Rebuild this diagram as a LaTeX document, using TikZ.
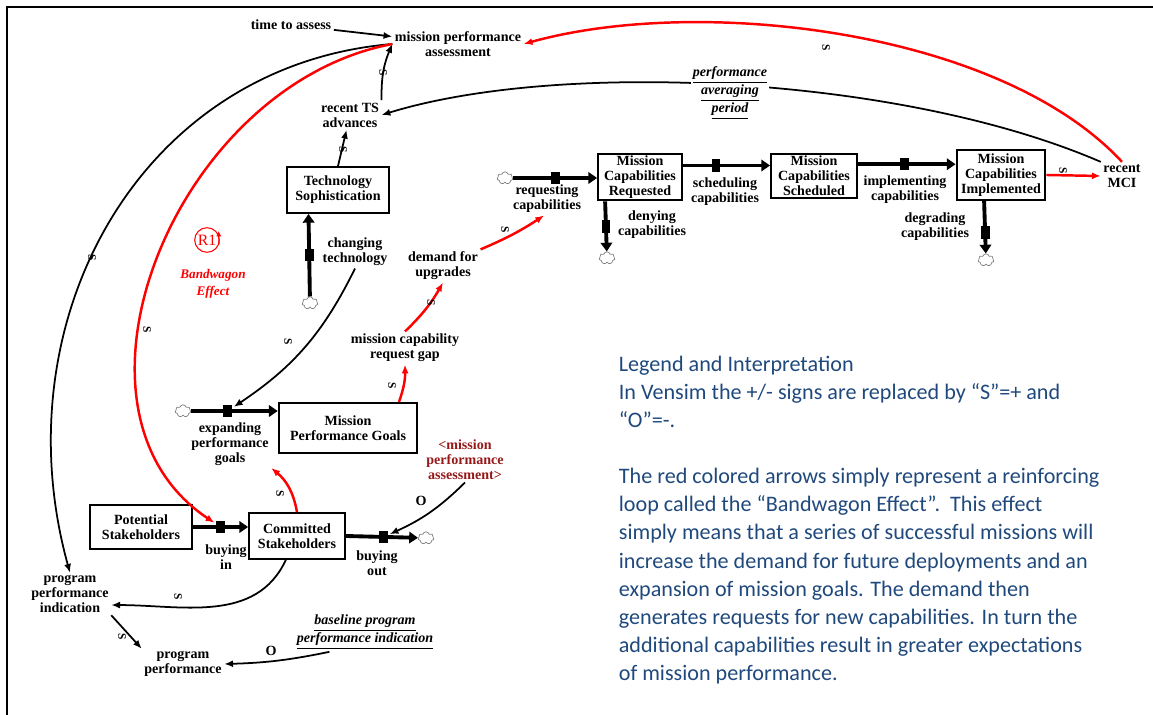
\documentclass[tikz,border=0pt]{standalone}
\usepackage{fontspec}
\setmainfont{Liberation Serif}
\newfontfamily\legendfont{Carlito}
\usetikzlibrary{arrows.meta,shapes.symbols}
\definecolor{shadowred}{RGB}{150,25,25}
\definecolor{legendblue}{RGB}{31,73,125}
\newcommand{\vf}{\fontsize{8}{8.5}\selectfont\bfseries}

\begin{document}
\begin{tikzpicture}[x=0.02cm, y=0.02cm, line width=1pt,
  aux/.style={font=\vf, align=center, inner sep=1pt},
  shadow/.style={aux, text=shadowred},
  fixed/.style={aux, font=\vf\itshape, fill=white},
  stock/.style={draw, line width=1.2pt, font=\vf, align=center, inner sep=1pt},
  pipe/.style={line width=2.2pt, -{Triangle[length=5pt,width=6.5pt]}},
  valve/.style={fill=black, minimum width=5pt, minimum height=7pt, inner sep=0pt},
  sink/.style={cloud, cloud puffs=7, draw=gray, fill=white, line width=0.4pt,
    minimum width=9pt, minimum height=7pt, inner sep=0pt},
  link/.style={-{Latex[length=5pt,width=4pt]}},
  rlink/.style={link, red, line width=1.4pt},
  pol/.style={font=\fontsize{6.5}{6.5}\selectfont\bfseries, rotate=-90, inner sep=0pt}]

  \useasboundingbox (0,0) rectangle (1153,-715);
  \draw[line width=1.2pt] (7,-715) -- (7,-7) -- (1153,-7);

  % stocks
  \node[stock, minimum width=47.6pt, minimum height=26.6pt] (mcr) at (640,-177) {Mission\\Capabilities\\Requested};
  \node[stock, minimum width=48.8pt, minimum height=25.5pt] (mcs) at (814,-176) {Mission\\Capabilities\\Scheduled};
  \node[stock, minimum width=50.5pt, minimum height=28.4pt] (mcim) at (1001,-175) {Mission\\Capabilities\\Implemented};
  \node[stock, minimum width=57.8pt, minimum height=26pt] (ts) at (338,-190) {Technology\\Sophistication};
  \node[stock, minimum width=78.8pt, minimum height=28.4pt] (mpg) at (348,-428) {Mission\\Performance Goals};
  \node[stock, minimum width=58.4pt, minimum height=25pt] (ps) at (141,-527) {Potential\\Stakeholders};
  \node[stock, minimum width=54.4pt, minimum height=26pt] (cs) at (297,-536) {Committed\\Stakeholders};

  % clouds
  \node[sink] (cl1) at (505,-178) {};
  \node[sink] (cl2) at (607,-258) {};
  \node[sink] (cl3) at (986,-260) {};
  \node[sink] (cl4) at (310,-303) {};
  \node[sink] (cl5) at (183,-411) {};
  \node[sink] (cl6) at (426,-538) {};

  % flows
  \draw[pipe] (cl1) -- node[valve] (v1) {} (mcr.west |- cl1);
  \draw[pipe] (mcr.15) -- node[valve, pos=0.38] (v2) {} (mcs.west |- mcr.15);
  \draw[pipe] (mcs.15) -- node[valve, pos=0.48] (v3) {} (mcim.west |- mcs.15);
  \draw[pipe] (mcr.-145) -- node[valve] (v4) {} (cl2);
  \draw[pipe] (mcim.-123) -- node[valve, pos=0.6] (v5) {} (cl3);
  \draw[pipe] (cl4) -- node[valve] (v6) {} (ts.-141);
  \draw[pipe] (cl5) -- node[valve, pos=0.42] (v7) {} (mpg.west |- cl5);
  \draw[pipe] (ps.east) -- node[valve] (v8) {} (cs.west |- ps.east);
  \draw[pipe] (cs.east) -- node[valve, pos=0.52] (v9) {} (cl6);

  % flow rates
  \node[aux] (rc) at (547,-199) {requesting\\capabilities};
  \node[aux] (sc) at (725,-192) {scheduling\\capabilities};
  \node[aux] (ic) at (905,-190) {implementing\\capabilities};
  \node[aux] (dc) at (652,-225) {denying\\capabilities};
  \node[aux] (dg) at (935,-227) {degrading\\capabilities};
  \node[aux] (ct) at (355,-252) {changing\\technology};
  \node[aux] (epg) at (230,-444) {expanding\\performance\\goals};
  \node[aux] (bi) at (226,-557) {buying\\in};
  \node[aux] (bo) at (377,-563) {buying\\out};

  % auxiliaries
  \node[aux] (tta) at (291,-25) {time to assess};
  \node[aux] (mpa) at (458,-44) {mission performance\\assessment};
  \node[aux] (tsa) at (350,-115) {recent TS\\advances};
  \node[aux] (mci) at (1122,-176) {recent\\MCI};
  \node[aux] (dfu) at (443,-266) {demand for\\upgrades};
  \node[aux] (mcrg) at (405,-348) {mission capability\\request gap};
  \node[shadow] (smpa) at (465,-460) {<mission\\performance\\assessment>};
  \node[aux] (ppi) at (70,-594) {program\\performance\\indication};
  \node[aux] (pp) at (183,-664) {program\\performance};
  \node[fixed] (bppi) at (365,-632) {\underline{baseline program}\\\underline{performance indication}};

  % links
  \draw[link] (tta) -- (mpa);
  \draw[link] (tsa.north east) to[bend left=12] (mpa.west);
  \draw[link] (ts.north) -- (tsa);
  \draw[link] (mci.north west) .. controls (900,-75) and (560,-60) .. (tsa.east);
  \node[fixed] (pap) at (730,-93) {\underline{performance}\\\underline{averaging}\\\underline{period}};
  \draw[link] (mpa.west) .. controls (140,-65) and (0,-320) .. (ppi.north);
  \draw[link] (ct.south) to[bend left=15] (v7);
  \draw[link] (smpa.south) to[bend left=10] (v9);
  \draw[link] (cs.-115) to[out=-115, in=0] (ppi.-15);
  \draw[link] (ppi.south east) -- (pp.north west);
  \draw[link] ([xshift=20pt]bppi.south west) to[bend left=5] (pp.east);

  % bandwagon loop
  \draw[rlink] (mpa.west) .. controls (175,-85) and (45,-410) .. (v8);
  \draw[rlink] (mpg.27) to[bend right=10] (mcrg.south);
  \draw[rlink] (mcrg.north) to[bend right=8] (dfu.south);
  \draw[rlink] (dfu.north east) to[bend right=5] (rc.-100);
  \draw[rlink] (mcim.east) -- (mci.west);
  \draw[rlink] (mci.north) .. controls (1000,-30) and (700,5) .. (mpa.east);
  \draw[rlink] (cs.north) to[bend right=20] (epg.south east);

  \foreach \n/\x/\y in {1/383/-73, 2/343/-150, 3/92/-258, 4/147/-330, 5/288/-342,
      6/392/-386, 7/431/-303, 8/505/-230, 9/1063/-171, 10/826/-48,
      11/280/-494, 12/178/-597, 13/122/-637}
    \node[pol] (s\n) at (\x,\y) {S};
  \node[aux] (o1) at (421,-501) {O};
  \node[aux] (o2) at (271,-651) {O};

  \node[circle, draw=red, text=red, line width=0.6pt, minimum size=14pt, inner sep=0pt,
    font=\fontsize{9}{9}\selectfont] (r1) at (207,-240) {R1};
  \draw[red, line width=0.6pt, -{Latex[length=3pt,width=3pt]}] (r1.-20) -- ([yshift=2pt]r1.25);
  \node[aux, text=red, font=\fontsize{7.5}{10}\selectfont\bfseries\itshape] (bw) at (213,-284) {Bandwagon\\Effect};

  \node[anchor=north west, align=left, inner sep=0pt, text=legendblue,
    font=\legendfont\fontsize{12.6}{16}\selectfont] (leg) at (618,-355) {Legend and Interpretation\\
    In Vensim the +/- signs are replaced by “S”=+ and\\
    “O”=-.\\[16pt]
    The red colored arrows simply represent a reinforcing\\
    loop called the “Bandwagon Effect”.\ \ This effect\\
    simply means that a series of successful missions will\\
    increase the demand for future deployments and an\\
    expansion of mission goals. The demand then\\
    generates requests for new capabilities. In turn the\\
    additional capabilities result in greater expectations\\
    of mission performance.};
\end{tikzpicture}
\end{document}
